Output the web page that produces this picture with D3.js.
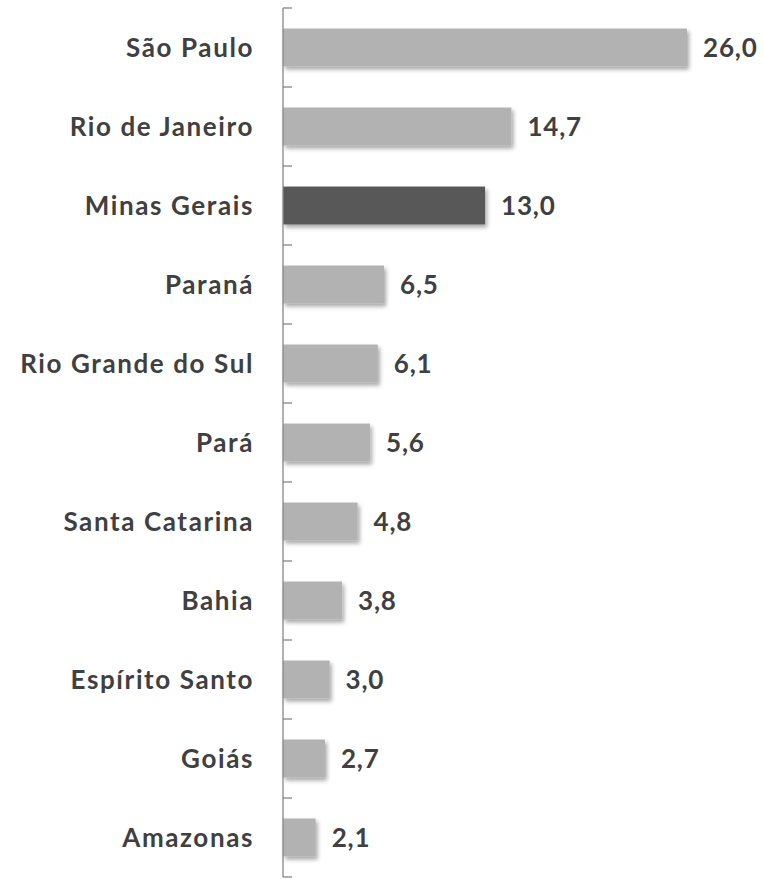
<!DOCTYPE html>
<html>
<head>
<meta charset="utf-8">
<script src="https://cdn.jsdelivr.net/npm/d3@7"></script>
<style>
  body { margin: 0; background: #fff; }
  text { font-family: Lato, "Open Sans", sans-serif; font-weight: bold; fill: #404040; }
</style>
</head>
<body>
<svg width="764" height="879"></svg>
<script>
var states = ["São Paulo", "Rio de Janeiro", "Minas Gerais", "Paraná", "Rio Grande do Sul",
              "Pará", "Santa Catarina", "Bahia", "Espírito Santo", "Goiás", "Amazonas"];
var shares = [26.0, 14.7, 13.0, 6.5, 6.1, 5.6, 4.8, 3.8, 3.0, 2.7, 2.1];
var highlight = "Minas Gerais";

var svg = d3.select("svg"),
    plotLeft = 283,
    plotTop = 8,
    plotBottom = 877;

var x = d3.scaleLinear()
    .domain([0, 26])
    .range([plotLeft, 687]);

var y = d3.scaleBand()
    .domain(states)
    .range([plotTop, plotBottom])
    .paddingInner(0.52)
    .paddingOuter(0.26);

var defs = svg.append("defs");
defs.append("filter")
    .attr("id", "shadow")
    .attr("x", "-10%").attr("y", "-20%")
    .attr("width", "130%").attr("height", "160%")
  .append("feDropShadow")
    .attr("dx", 2)
    .attr("dy", 3)
    .attr("stdDeviation", 2)
    .attr("flood-color", "#000")
    .attr("flood-opacity", 0.35);

svg.append("g")
    .selectAll("rect")
    .data(states)
    .enter().append("rect")
    .attr("x", x(0))
    .attr("y", function(d) { return y(d); })
    .attr("width", function(d, i) { return x(shares[i]) - x(0); })
    .attr("height", y.bandwidth())
    .attr("fill", function(d) { return d === highlight ? "#595959" : "#b2b2b2"; })
    .attr("filter", "url(#shadow)");

// category ticks at band boundaries, pointing into the plot
var step = (plotBottom - plotTop) / states.length;
var axisG = svg.append("g").attr("class", "axis");
axisG.append("line")
    .attr("x1", plotLeft).attr("x2", plotLeft)
    .attr("y1", plotTop).attr("y2", plotBottom)
    .attr("stroke", "#868686")
    .attr("stroke-width", 1.3);
axisG.selectAll("line.tick")
    .data(d3.range(states.length + 1))
    .enter().append("line")
    .attr("class", "tick")
    .attr("x1", plotLeft).attr("x2", plotLeft + 9)
    .attr("y1", function(i) { return plotTop + i * step; })
    .attr("y2", function(i) { return plotTop + i * step; })
    .attr("stroke", "#868686")
    .attr("stroke-width", 1.3);

svg.append("g")
    .selectAll("text")
    .data(states)
    .enter().append("text")
    .attr("x", plotLeft - 29)
    .attr("y", function(d) { return y(d) + y.bandwidth() / 2; })
    .attr("dy", "0.36em")
    .attr("text-anchor", "end")
    .style("font-size", "26px")
    .style("letter-spacing", "1.6px")
    .text(function(d) { return d; });

svg.append("g")
    .selectAll("text")
    .data(states)
    .enter().append("text")
    .attr("x", function(d, i) { return x(shares[i]) + 16; })
    .attr("y", function(d) { return y(d) + y.bandwidth() / 2; })
    .attr("dy", "0.36em")
    .style("font-size", "26px")
    .style("letter-spacing", "0.8px")
    .text(function(d, i) { return shares[i].toFixed(1).replace(".", ","); });
</script>
</body>
</html>
